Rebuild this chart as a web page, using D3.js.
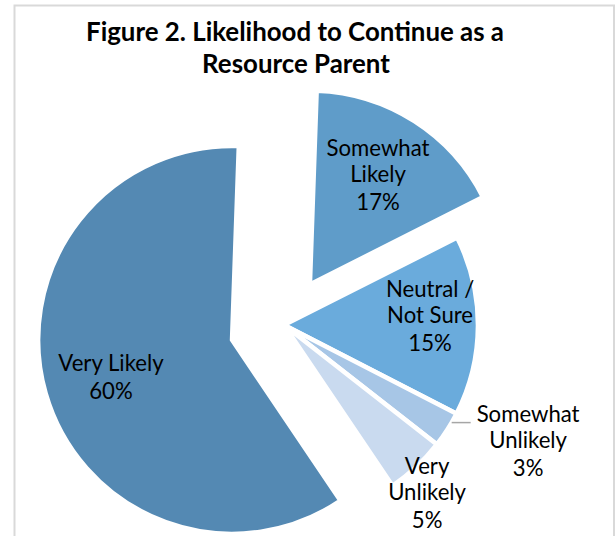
<!DOCTYPE html>
<html>
<head>
<meta charset="utf-8">
<script src="https://cdn.jsdelivr.net/npm/d3@7"></script>
<style>
  html, body { margin: 0; padding: 0; background: #fff; }
  svg { display: block; }
</style>
</head>
<body>
<svg id="chart" width="616" height="536"></svg>
<script>
// ---- data ----
const categories = ["Somewhat Likely", "Neutral / Not Sure", "Somewhat Unlikely", "Very Unlikely", "Very Likely"];
const labelLines = [["Somewhat", "Likely"], ["Neutral /", "Not Sure"], ["Somewhat", "Unlikely"], ["Very", "Unlikely"], ["Very Likely"]];
const values = [17, 15, 3, 5, 60];
const titleLines = ["Figure 2. Likelihood to Continue as a", "Resource Parent"];

// ---- style / layout ----
const colors = ["#5F9CC9", "#6AABDC", "#A7C6E6", "#C9DAEF", "#5489B3"];
const explode = [48, 0, 0, 0, 54];
// label placement: [fraction of radius, angle shift in degrees] from slice apex
const labelPlace = [[0.630, 1.3], [0.753, -0.9], [1.411, -5.7], [1.167, 3.8], [0.666, -4.4]];
const leaderFor = 2; // Somewhat Unlikely gets a leader line
const W = 616, H = 536;
const cx = 284, cy = 325, R = 194;
const startDeg = 2;
const fontFamily = "Lato, 'Open Sans', 'DejaVu Sans', sans-serif";

const svg = d3.select("#chart");
svg.append("rect").attr("width", W).attr("height", H).attr("fill", "#fff");
// chart area frame
svg.append("rect")
  .attr("x", 14.5).attr("y", 5.5).attr("width", 599.5).attr("height", 600)
  .attr("fill", "none").attr("stroke", "#d9d9d9").attr("stroke-width", 2);

const rad = d => d * Math.PI / 180;
const dir = a => [Math.sin(a), -Math.cos(a)];

const pie = d3.pie().sort(null).value(d => d)
  .startAngle(rad(startDeg)).endAngle(rad(startDeg + 360));
const arcs = pie(values);
const arc = d3.arc().innerRadius(0).outerRadius(R);

const g = svg.append("g").attr("transform", `translate(${cx},${cy})`);

const apex = arcs.map((a, i) => {
  const m = (a.startAngle + a.endAngle) / 2;
  const [dx, dy] = dir(m);
  return [dx * explode[i], dy * explode[i]];
});

g.selectAll("path.slice").data(arcs).join("path")
  .attr("class", "slice")
  .attr("d", arc)
  .attr("transform", (d, i) => `translate(${apex[i][0]},${apex[i][1]})`)
  .attr("fill", (d, i) => colors[i])
  .attr("stroke", "#fff")
  .attr("stroke-width", 4.6)
  .attr("stroke-linejoin", "miter");

// ---- title ----
const title = svg.append("g").attr("font-family", fontFamily).attr("font-weight", 700)
  .attr("fill", "#000").attr("text-anchor", "middle");
const t1 = title.append("text").attr("x", 295).attr("y", 41).attr("font-size", 26).text(titleLines[0]);
const tScale = 418 / t1.node().getComputedTextLength();
const titleSize = 26 * tScale;
t1.attr("font-size", titleSize);
title.append("text").attr("x", 296).attr("y", 73).attr("font-size", titleSize).text(titleLines[1]);

// ---- data labels ----
const probe = svg.append("text").attr("font-family", fontFamily).attr("font-size", 20).text("Somewhat");
const labelSize = 20 * 103 / probe.node().getComputedTextLength();
probe.remove();

const fmt = d3.format(".0%");
const total = d3.sum(values);
const nameGap = 26, valueGap = 28;

const labels = g.append("g").attr("font-family", fontFamily).attr("font-size", labelSize)
  .attr("fill", "#000").attr("text-anchor", "middle");

arcs.forEach((a, i) => {
  const m = (a.startAngle + a.endAngle) / 2 + rad(labelPlace[i][1]);
  const [dx, dy] = dir(m);
  const lx = apex[i][0] + dx * R * labelPlace[i][0];
  const ly = apex[i][1] + dy * R * labelPlace[i][0];
  const lines = labelLines[i].concat([fmt(values[i] / total)]);
  const offs = [0];
  for (let k = 1; k < lines.length; k++) offs.push(offs[k - 1] + (k === lines.length - 1 ? valueGap : nameGap));
  const mean = d3.mean(offs);
  const txt = labels.append("text").attr("x", lx).attr("y", ly);
  lines.forEach((ln, k) => {
    txt.append("tspan").attr("x", lx).attr("y", ly + offs[k] - mean).text(ln);
  });
  if (i === leaderFor) {
    const first = txt.select("tspan").node().getBBox();
    const la = (a.startAngle + a.endAngle) / 2 - rad(2.4);
    const [sx, sy] = dir(la);
    const x0 = sx * R, y0 = sy * R;
    g.append("line")
      .attr("x1", x0).attr("y1", y0)
      .attr("x2", first.x - 6).attr("y2", y0)
      .attr("stroke", "#a6a6a6").attr("stroke-width", 1.5);
  }
});
</script>
</body>
</html>
